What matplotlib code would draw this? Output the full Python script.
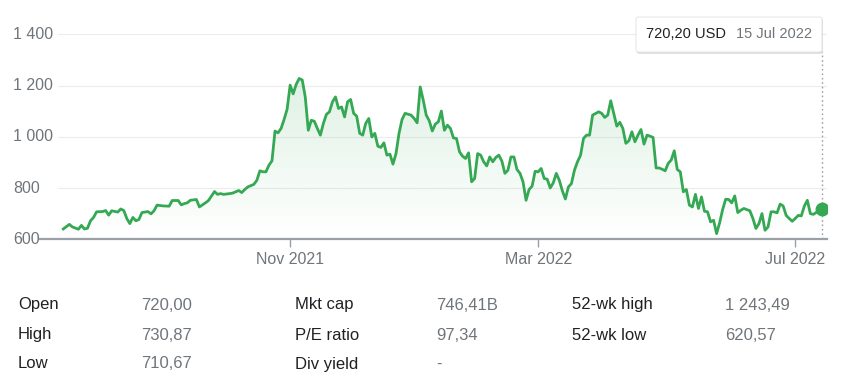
import numpy as np
import pandas as pd
import matplotlib
matplotlib.use("Agg")
import matplotlib.pyplot as plt
from matplotlib.patches import Polygon, FancyBboxPatch
from matplotlib.colors import to_rgb
from matplotlib.transforms import blended_transform_factory

plt.rcParams['font.family'] = ['Liberation Sans', 'DejaVu Sans']

# trading sessions 16 Jul 2021 .. 15 Jul 2022
holidays = ['2021-09-06', '2021-11-25', '2021-12-24', '2022-01-17', '2022-02-21',
            '2022-04-15', '2022-05-30', '2022-06-20', '2022-07-04']
sessions = pd.bdate_range('2021-07-16', '2022-07-15', freq='C', holidays=holidays)

# session number (0 = 16 Jul 2021) and closing price
session_idx = [0, 2, 3, 5, 6, 7, 8, 9, 10, 11, 13, 14, 15, 16, 18, 19, 20, 21, 22, 23,
               24, 25, 26, 28, 29, 30, 31, 33, 35, 36, 38, 39, 40, 41, 42, 44, 45, 47, 48, 50,
               51, 52, 53, 55, 56, 58, 59, 60, 61, 63, 64, 65, 66, 67, 68, 69, 70, 71, 72, 73,
               74, 75, 76, 77, 78, 79, 80, 81, 82, 83, 84, 85, 86, 87, 88, 89, 90, 91, 92, 93,
               94, 95, 96, 97, 98, 99, 100, 101, 102, 103, 104, 105, 106, 107, 108, 109, 110, 111, 112, 113,
               115, 116, 117, 118, 119, 120, 121, 122, 123, 124, 125, 126, 127, 128, 129, 130, 131, 132, 133, 134,
               135, 136, 137, 138, 139, 140, 141, 142, 143, 144, 145, 146, 147, 148, 149, 150, 151, 152, 153, 154,
               155, 156, 157, 158, 159, 160, 161, 162, 163, 164, 165, 166, 167, 168, 169, 170, 171, 172, 173, 174,
               175, 177, 178, 179, 180, 181, 182, 183, 184, 185, 186, 187, 188, 189, 190, 191, 192, 193, 194, 195,
               196, 197, 198, 199, 200, 201, 202, 203, 204, 205, 206, 207, 208, 209, 210, 211, 212, 213, 214, 215,
               216, 217, 218, 219, 220, 221, 222, 223, 224, 225, 227, 228, 229, 230, 231, 232, 233, 234, 235, 236,
               237, 238, 239, 240, 241, 242, 243, 244, 245, 246, 247, 248, 250, 251]
close = [641, 659, 649, 640, 655, 641, 644, 673, 686, 708, 709, 713, 695, 712, 707, 719, 713, 682, 662, 686,
         673, 678, 705, 709, 700, 712, 734, 731, 730, 752, 752, 735, 740, 743, 753, 756, 727, 743, 752, 787,
         776, 779, 776, 779, 781, 791, 783, 795, 805, 815, 831, 868, 864, 864, 890, 907, 1023, 1016, 1033, 1068,
         1108, 1202, 1168, 1205, 1228, 1222, 1156, 1026, 1065, 1061, 1033, 1007, 1053, 1088, 1098, 1137, 1156, 1111, 1117, 1078,
         1137, 1146, 1092, 1081, 1014, 1007, 1053, 1072, 1000, 1014, 964, 959, 977, 929, 933, 894, 935, 1014, 1068, 1092,
         1085, 1072, 1055, 1195, 1144, 1085, 1063, 1023, 1050, 1059, 1101, 1026, 1046, 1033, 996, 994, 942, 925, 916, 938,
         825, 838, 935, 929, 903, 887, 922, 903, 920, 929, 906, 858, 870, 922, 922, 873, 858, 825, 753, 795,
         808, 866, 864, 877, 838, 835, 801, 821, 858, 831, 790, 758, 805, 818, 870, 903, 928, 994, 1007, 1007,
         1085, 1098, 1092, 1076, 1085, 1141, 1092, 1042, 1057, 1033, 975, 985, 1020, 981, 1007, 1029, 972, 1007, 1003, 998,
         879, 879, 874, 868, 897, 910, 946, 873, 864, 786, 795, 734, 727, 776, 721, 766, 710, 708, 669, 675,
         623, 665, 717, 757, 756, 743, 770, 705, 714, 721, 712, 682, 643, 662, 701, 636, 649, 708, 708, 704,
         738, 731, 694, 682, 671, 682, 694, 692, 730, 753, 701, 698, 714, 720]

tick_months = ['2021-11-01', '2022-03-01', '2022-07-01']
tick_labels = ['Nov 2021', 'Mar 2022', 'Jul 2022']
y_ticks = [600, 800, 1000, 1200, 1400]
y_tick_labels = ['600', '800', '1 000', '1 200', '1 400']

tooltip_price = '720,20 USD'
tooltip_date = '15 Jul 2022'

stats_labels = [['Open', 'High', 'Low'],
                ['Mkt cap', 'P/E ratio', 'Div yield'],
                ['52-wk high', '52-wk low', '']]
stats_values = [['720,00', '730,87', '710,67'],
                ['746,41B', '97,34', '-'],
                ['1 243,49', '620,57', '']]

GREEN = '#34a853'
GRAY = '#70757a'
DARK = '#202124'

W, H = 856, 382
fig = plt.figure(figsize=(W / 100, H / 100), dpi=100)
ax = fig.add_axes([40 / W, 1 - 239.5 / H, (827 - 40) / W, (239.5 - 20) / H])

xs = np.array(session_idx)
ys = np.array(close)

# grid lines (start a bit right of the baseline)
for v in y_ticks[1:]:
    ax.axhline(v, xmin=18 / 787, xmax=1, color='#ececec', lw=0.8, zorder=0)

# gradient fill under the line
verts = [(xs[0], 600)] + list(zip(xs, ys)) + [(xs[-1], 600)]
clip = Polygon(verts, closed=True, facecolor='none', edgecolor='none')
ax.add_patch(clip)
grad = np.zeros((256, 1, 4))
grad[..., :3] = to_rgb(GREEN)
grad[..., 3] = np.linspace(0.0, 0.16, 256).reshape(-1, 1)
im = ax.imshow(grad, extent=[xs[0], xs[-1], 600, ys.max()], origin='lower',
               aspect='auto', zorder=1, interpolation='bilinear')
im.set_clip_path(clip)
ax.set_xlim(-7.7, 252.5)
ax.set_ylim(600, 1456)

ax.plot(xs, ys, color=GREEN, lw=2.0, zorder=3, solid_joinstyle='round')
ax.plot(xs[-1], ys[-1], 'o', ms=9, color=GREEN, zorder=4)

# hover line
ax.plot([xs[-1], xs[-1]], [600, 1330], color='#9aa0a6', lw=1, ls=(0, (1.2, 2)), zorder=2)

for s in ['top', 'right', 'left']:
    ax.spines[s].set_visible(False)
ax.spines['bottom'].set_color('#9aa0a6')
ax.spines['bottom'].set_linewidth(1.6)

tick_pos = [sessions.searchsorted(pd.Timestamp(m)) for m in tick_months]
ax.set_xticks(tick_pos)
ax.set_xticklabels(tick_labels)
ax.tick_params(axis='x', direction='out', length=6, width=1, color='#9aa0a6',
               labelcolor=GRAY, labelsize=11.5, pad=3)
ax.set_yticks([])

trans = blended_transform_factory(fig.transFigure, ax.transData)
for v, lab in zip(y_ticks, y_tick_labels):
    ax.text(13 / W, v, lab, transform=trans, ha='left', va='center',
            fontsize=11.5, color=GRAY)

# tooltip box
bx0, by0, bx1, by1 = 636, 17, 822, 52
shadow = FancyBboxPatch(((bx0 + 1) / W, 1 - (by1 + 2) / H), (bx1 - bx0) / W, (by1 - by0) / H,
                        boxstyle='round,pad=0,rounding_size=0.004', transform=fig.transFigure,
                        facecolor='#000000', alpha=0.12, edgecolor='none', zorder=5)
box = FancyBboxPatch((bx0 / W, 1 - by1 / H), (bx1 - bx0) / W, (by1 - by0) / H,
                     boxstyle='round,pad=0,rounding_size=0.004', transform=fig.transFigure,
                     facecolor='white', edgecolor='#e0e0e0', lw=0.6, zorder=6)
fig.patches.extend([shadow, box])
fig.text(646 / W, 1 - 34.5 / H, tooltip_price, ha='left', va='center',
         fontsize=10.5, color=DARK, zorder=7)
fig.text(736 / W, 1 - 34.5 / H, tooltip_date, ha='left', va='center',
         fontsize=10.5, color=GRAY, zorder=7)

# key stats under the chart
label_x = [18, 295, 572]
value_x = [141, 436, 725]
row_y = [305, 335, 364]
for c in range(3):
    for r in range(3):
        if stats_labels[c][r]:
            fig.text(label_x[c] / W, 1 - row_y[r] / H, stats_labels[c][r],
                     ha='left', va='center', fontsize=12, color=DARK)
        if stats_values[c][r]:
            fig.text(value_x[c] / W, 1 - row_y[r] / H, stats_values[c][r],
                     ha='left', va='center', fontsize=12, color=GRAY)

fig.savefig('out.png', dpi=100)
